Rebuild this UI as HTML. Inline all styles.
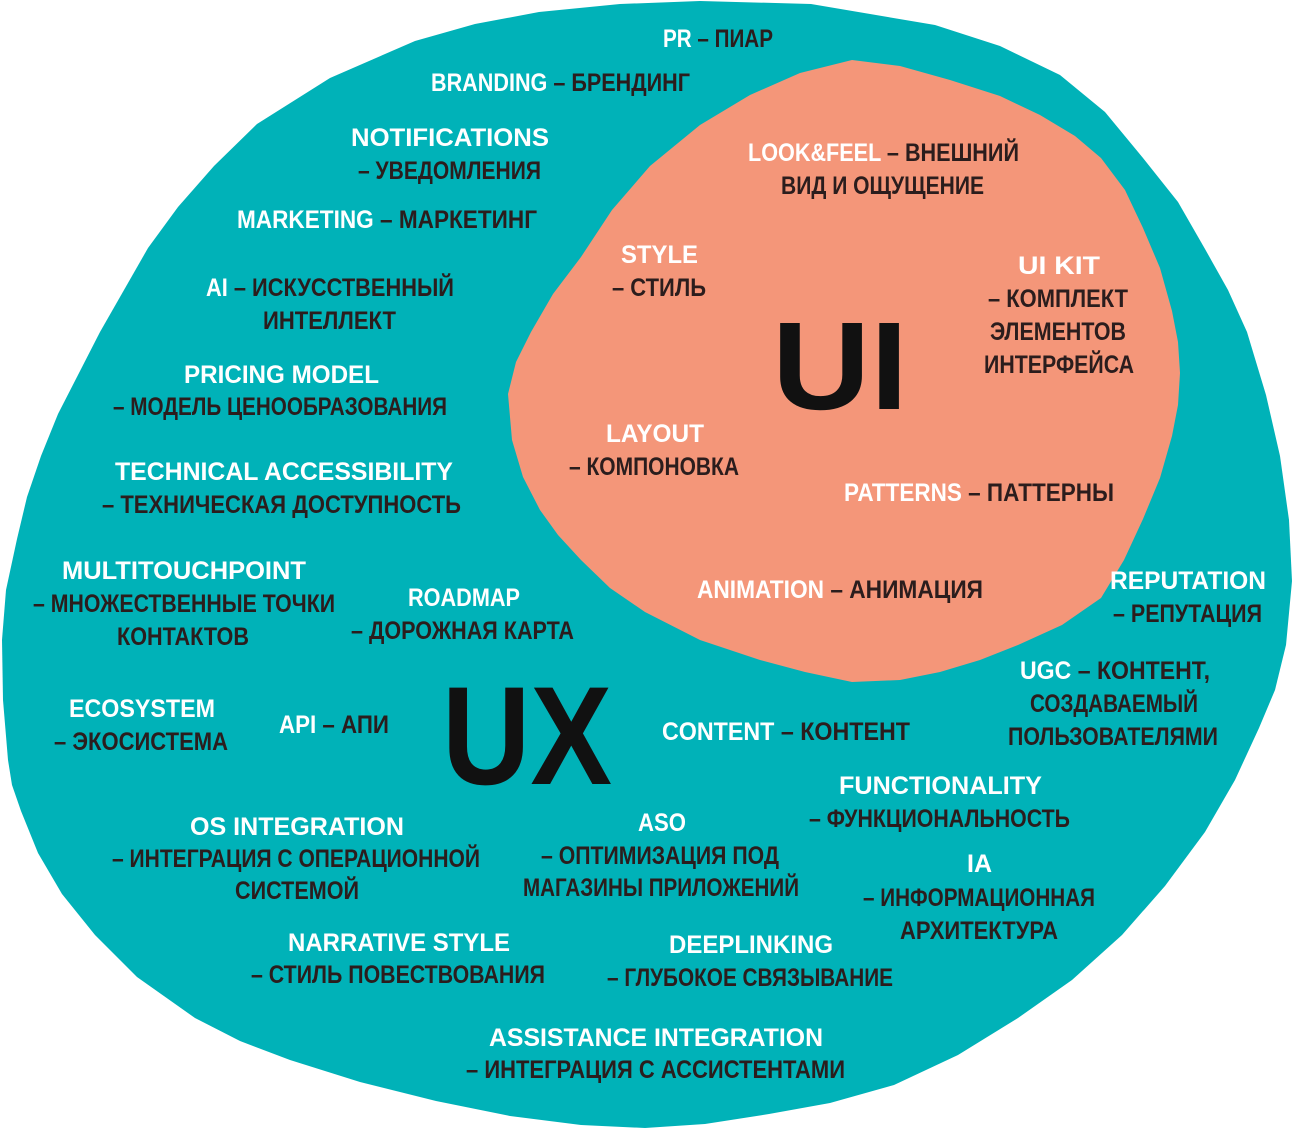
<!DOCTYPE html>
<html><head><meta charset="utf-8"><style>
html,body{margin:0;padding:0;background:#fff}
svg{display:block}
text{font-family:"Liberation Sans","DejaVu Sans",sans-serif;font-weight:bold;font-size:25px}
.w{fill:#fff}.d{fill:#2b1d1d}
.big{font-size:140px;fill:#111}
</style></head><body>
<svg width="1295" height="1129" viewBox="0 0 1295 1129" xmlns="http://www.w3.org/2000/svg">
<polygon fill="#00B2B8" points="700,1 811,4 935,25 1000,46 1060,75 1105,112 1143,158 1178,202 1205,249 1228,290 1247,332 1266,395 1280,456 1289,520 1292,581 1286,645 1275,690 1259,728 1235,780 1205,832 1165,886 1122,935 1072,980 1018,1018 958,1055 894,1085 830,1103 769,1114 705,1124 645,1128 581,1125 510,1116 436,1101 360,1082 290,1060 240,1041 195,1018 137,977 95,935 62,894 38,853 21,811 12,785 8,760 3,700 2,640 6,590 17,539 27,497 41,456 58,414 79,373 100,332 124,290 148,248 178,207 214,166 257,124 330,78 415,41 475,24 539,12 620,4"/>
<polygon fill="#F49679" points="852,60 900,66 950,80 1000,96 1040,115 1075,136 1101,158 1125,190 1143,228 1160,268 1172,311 1178,342 1180,373 1178,405 1172,436 1160,478 1143,519 1124,560 1101,598 1062,625 1018,645 980,660 940,672 900,680 852,682 805,672 760,660 700,640 645,612 610,588 581,560 558,535 540,510 523,477 512,440 508,394 516,362 531,332 553,294 581,257 612,210 650,166 700,125 750,95 800,73"/>
<g>
<text x="663" y="47" textLength="110" lengthAdjust="spacingAndGlyphs"><tspan class="w">PR</tspan><tspan class="d"> – ПИАР</tspan></text>
<text x="431" y="91" textLength="259" lengthAdjust="spacingAndGlyphs"><tspan class="w">BRANDING</tspan><tspan class="d"> – БРЕНДИНГ</tspan></text>
<text class="w" x="351" y="146" textLength="198" lengthAdjust="spacingAndGlyphs">NOTIFICATIONS</text>
<text class="d" x="358" y="179" textLength="183" lengthAdjust="spacingAndGlyphs">– УВЕДОМЛЕНИЯ</text>
<text x="237" y="228" textLength="300" lengthAdjust="spacingAndGlyphs"><tspan class="w">MARKETING</tspan><tspan class="d"> – МАРКЕТИНГ</tspan></text>
<text x="206" y="296" textLength="248" lengthAdjust="spacingAndGlyphs"><tspan class="w">AI</tspan><tspan class="d"> – ИСКУССТВЕННЫЙ</tspan></text>
<text class="d" x="263" y="329" textLength="133" lengthAdjust="spacingAndGlyphs">ИНТЕЛЛЕКТ</text>
<text class="w" x="184" y="383" textLength="195" lengthAdjust="spacingAndGlyphs">PRICING MODEL</text>
<text class="d" x="113" y="415" textLength="334" lengthAdjust="spacingAndGlyphs">– МОДЕЛЬ ЦЕНООБРАЗОВАНИЯ</text>
<text class="w" x="115" y="480" textLength="338" lengthAdjust="spacingAndGlyphs">TECHNICAL ACCESSIBILITY</text>
<text class="d" x="102" y="513" textLength="359" lengthAdjust="spacingAndGlyphs">– ТЕХНИЧЕСКАЯ ДОСТУПНОСТЬ</text>
<text class="w" x="62" y="579" textLength="244" lengthAdjust="spacingAndGlyphs">MULTITOUCHPOINT</text>
<text class="d" x="33" y="612" textLength="302" lengthAdjust="spacingAndGlyphs">– МНОЖЕСТВЕННЫЕ ТОЧКИ</text>
<text class="d" x="117" y="645" textLength="132" lengthAdjust="spacingAndGlyphs">КОНТАКТОВ</text>
<text class="w" x="408" y="606" textLength="112" lengthAdjust="spacingAndGlyphs">ROADMAP</text>
<text class="d" x="351" y="639" textLength="223" lengthAdjust="spacingAndGlyphs">– ДОРОЖНАЯ КАРТА</text>
<text class="w" x="69" y="717" textLength="146" lengthAdjust="spacingAndGlyphs">ECOSYSTEM</text>
<text class="d" x="54" y="750" textLength="174" lengthAdjust="spacingAndGlyphs">– ЭКОСИСТЕМА</text>
<text x="279" y="733" textLength="110" lengthAdjust="spacingAndGlyphs"><tspan class="w">API</tspan><tspan class="d"> – АПИ</tspan></text>
<text class="big" x="442" y="784" textLength="170" lengthAdjust="spacingAndGlyphs">UX</text>
<text x="662" y="740" textLength="248" lengthAdjust="spacingAndGlyphs"><tspan class="w">CONTENT</tspan><tspan class="d"> – КОНТЕНТ</tspan></text>
<text class="w" x="1110" y="589" textLength="156" lengthAdjust="spacingAndGlyphs">REPUTATION</text>
<text class="d" x="1113" y="622" textLength="149" lengthAdjust="spacingAndGlyphs">– РЕПУТАЦИЯ</text>
<text x="1020" y="679" textLength="190" lengthAdjust="spacingAndGlyphs"><tspan class="w">UGC</tspan><tspan class="d"> – КОНТЕНТ,</tspan></text>
<text class="d" x="1030" y="712" textLength="168" lengthAdjust="spacingAndGlyphs">СОЗДАВАЕМЫЙ</text>
<text class="d" x="1008" y="745" textLength="210" lengthAdjust="spacingAndGlyphs">ПОЛЬЗОВАТЕЛЯМИ</text>
<text class="w" x="839" y="794" textLength="203" lengthAdjust="spacingAndGlyphs">FUNCTIONALITY</text>
<text class="d" x="809" y="827" textLength="261" lengthAdjust="spacingAndGlyphs">– ФУНКЦИОНАЛЬНОСТЬ</text>
<text class="w" x="190" y="835" textLength="214" lengthAdjust="spacingAndGlyphs">OS INTEGRATION</text>
<text class="d" x="112" y="867" textLength="368" lengthAdjust="spacingAndGlyphs">– ИНТЕГРАЦИЯ С ОПЕРАЦИОННОЙ</text>
<text class="d" x="235" y="899" textLength="124" lengthAdjust="spacingAndGlyphs">СИСТЕМОЙ</text>
<text class="w" x="638" y="831" textLength="48" lengthAdjust="spacingAndGlyphs">ASO</text>
<text class="d" x="541" y="864" textLength="238" lengthAdjust="spacingAndGlyphs">– ОПТИМИЗАЦИЯ ПОД</text>
<text class="d" x="523" y="896" textLength="276" lengthAdjust="spacingAndGlyphs">МАГАЗИНЫ ПРИЛОЖЕНИЙ</text>
<text class="w" x="967" y="872" textLength="25" lengthAdjust="spacingAndGlyphs">IA</text>
<text class="d" x="863" y="906" textLength="232" lengthAdjust="spacingAndGlyphs">– ИНФОРМАЦИОННАЯ</text>
<text class="d" x="900" y="939" textLength="158" lengthAdjust="spacingAndGlyphs">АРХИТЕКТУРА</text>
<text class="w" x="288" y="951" textLength="222" lengthAdjust="spacingAndGlyphs">NARRATIVE STYLE</text>
<text class="d" x="251" y="983" textLength="294" lengthAdjust="spacingAndGlyphs">– СТИЛЬ ПОВЕСТВОВАНИЯ</text>
<text class="w" x="669" y="953" textLength="164" lengthAdjust="spacingAndGlyphs">DEEPLINKING</text>
<text class="d" x="607" y="986" textLength="286" lengthAdjust="spacingAndGlyphs">– ГЛУБОКОЕ СВЯЗЫВАНИЕ</text>
<text class="w" x="489" y="1046" textLength="334" lengthAdjust="spacingAndGlyphs">ASSISTANCE INTEGRATION</text>
<text class="d" x="466" y="1078" textLength="379" lengthAdjust="spacingAndGlyphs">– ИНТЕГРАЦИЯ С АССИСТЕНТАМИ</text>
<text x="748" y="161" textLength="271" lengthAdjust="spacingAndGlyphs"><tspan class="w">LOOK&amp;FEEL</tspan><tspan class="d"> – ВНЕШНИЙ</tspan></text>
<text class="d" x="781" y="194" textLength="203" lengthAdjust="spacingAndGlyphs">ВИД И ОЩУЩЕНИЕ</text>
<text class="w" x="621" y="263" textLength="77" lengthAdjust="spacingAndGlyphs">STYLE</text>
<text class="d" x="612" y="296" textLength="94" lengthAdjust="spacingAndGlyphs">– СТИЛЬ</text>
<text class="w" x="1018" y="274" textLength="82" lengthAdjust="spacingAndGlyphs">UI KIT</text>
<text class="d" x="988" y="307" textLength="140" lengthAdjust="spacingAndGlyphs">– КОМПЛЕКТ</text>
<text class="d" x="990" y="340" textLength="136" lengthAdjust="spacingAndGlyphs">ЭЛЕМЕНТОВ</text>
<text class="d" x="984" y="373" textLength="150" lengthAdjust="spacingAndGlyphs">ИНТЕРФЕЙСА</text>
<text class="big" x="772" y="409" textLength="136" lengthAdjust="spacingAndGlyphs" style="font-size:125px">UI</text>
<text class="w" x="606" y="442" textLength="98" lengthAdjust="spacingAndGlyphs">LAYOUT</text>
<text class="d" x="569" y="475" textLength="170" lengthAdjust="spacingAndGlyphs">– КОМПОНОВКА</text>
<text x="844" y="501" textLength="270" lengthAdjust="spacingAndGlyphs"><tspan class="w">PATTERNS</tspan><tspan class="d"> – ПАТТЕРНЫ</tspan></text>
<text x="697" y="598" textLength="286" lengthAdjust="spacingAndGlyphs"><tspan class="w">ANIMATION</tspan><tspan class="d"> – АНИМАЦИЯ</tspan></text>
</g>
</svg>
</body></html>
